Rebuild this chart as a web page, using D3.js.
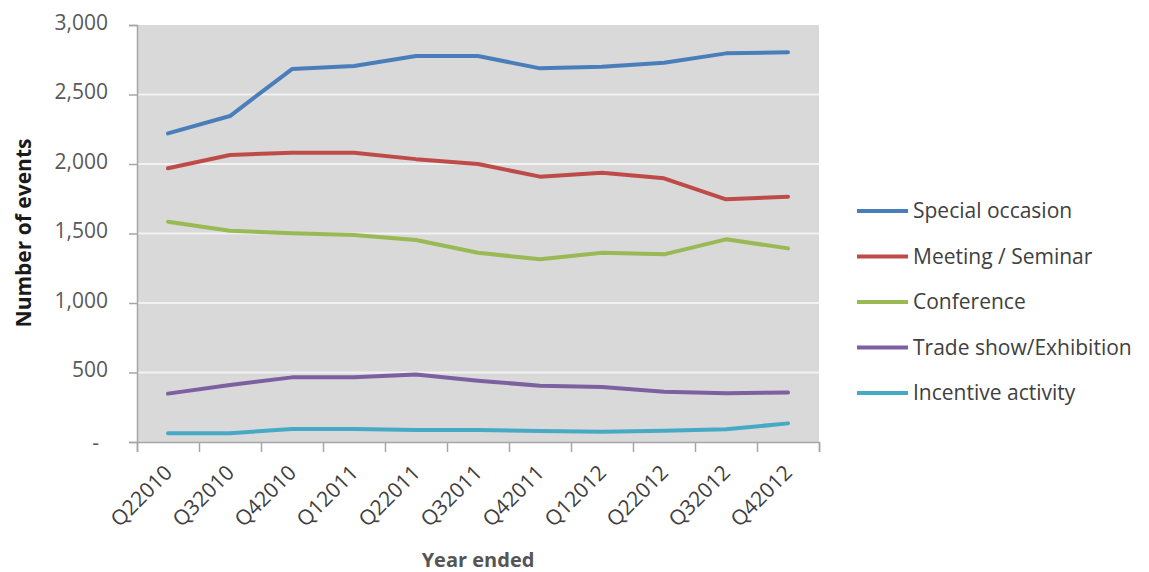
<!DOCTYPE html>
<html>
<head>
<meta charset="utf-8">
<script src="https://cdn.jsdelivr.net/npm/d3@7"></script>
<style>
  html, body { margin: 0; padding: 0; background: #fff; }
  svg { display: block; font-family: "Open Sans", "Noto Sans", sans-serif; }
</style>
</head>
<body>
<svg id="chart" width="1149" height="572"></svg>
<script>
// Quarterly event counts by event type
const quarters = ["Q22010","Q32010","Q42010","Q12011","Q22011","Q32011","Q42011","Q12012","Q22012","Q32012","Q42012"];
const specialOccasion = [2220, 2345, 2683, 2705, 2777, 2777, 2688, 2700, 2729, 2796, 2804];
const meetingSeminar  = [1969, 2065, 2081, 2081, 2035, 2000, 1909, 1937, 1897, 1746, 1765];
const conference      = [1585, 1520, 1501, 1489, 1453, 1362, 1314, 1362, 1350, 1458, 1393];
const tradeShow       = [348, 410, 465, 465, 485, 441, 405, 395, 362, 350, 357];
const incentive       = [63, 63, 94, 94, 86, 86, 79, 74, 81, 91, 134];
const seriesNames  = ["Special occasion", "Meeting / Seminar", "Conference", "Trade show/Exhibition", "Incentive activity"];
const seriesValues = [specialOccasion, meetingSeminar, conference, tradeShow, incentive];
const seriesColors = ["#4a7ebb", "#be4b48", "#98b954", "#7d60a0", "#46aac5"];
const yTicks = [0, 500, 1000, 1500, 2000, 2500, 3000];

const svg = d3.select("#chart");
const plot = { left: 137, right: 819, top: 25, bottom: 442 };

const x = d3.scalePoint().domain(quarters).range([plot.left, plot.right]).padding(0.5);
const xEdges = d3.scaleLinear().domain([0, quarters.length]).range([plot.left, plot.right]);
const y = d3.scaleLinear().domain([0, 3000]).range([plot.bottom, plot.top]);

// plot background
svg.append("rect")
  .attr("x", plot.left).attr("y", plot.top)
  .attr("width", plot.right - plot.left).attr("height", plot.bottom - plot.top)
  .attr("fill", "#d9d9d9");

// horizontal gridlines
svg.append("g").selectAll("line")
  .data(yTicks.filter(v => v > 0 && v < 3000))
  .join("line")
  .attr("x1", plot.left).attr("x2", plot.right)
  .attr("y1", d => y(d)).attr("y2", d => y(d))
  .attr("stroke", "#f2f2f2").attr("stroke-width", 2);

// y axis
const yAxis = svg.append("g")
  .attr("transform", `translate(${plot.left},0)`)
  .call(d3.axisLeft(y).tickValues(yTicks).tickSize(8).tickPadding(21)
    .tickFormat(d => d === 0 ? "-" : d3.format(",")(d)));
yAxis.select(".domain").attr("stroke", "#a6a6a6").attr("stroke-width", 1.5);
yAxis.selectAll(".tick line").attr("stroke", "#a6a6a6").attr("stroke-width", 1.5);
yAxis.selectAll(".tick text")
  .attr("fill", "#595959").attr("font-size", 21).attr("dy", "0.2em")
  .attr("font-family", "Open Sans");
yAxis.selectAll(".tick text").filter(d => d === 0).attr("x", -38).attr("dy", "0.35em");

// x axis: tick marks on category boundaries
const xEdgeAxis = svg.append("g")
  .attr("transform", `translate(0,${plot.bottom})`)
  .call(d3.axisBottom(xEdges).tickValues(d3.range(quarters.length + 1)).tickSize(10).tickFormat(""));
xEdgeAxis.select(".domain").attr("stroke", "#a6a6a6").attr("stroke-width", 1.5);
xEdgeAxis.selectAll(".tick line").attr("stroke", "#a6a6a6").attr("stroke-width", 1.5);

// x axis: rotated category labels
const xLabelAxis = svg.append("g")
  .attr("transform", `translate(0,${plot.bottom})`)
  .call(d3.axisBottom(x).tickSize(0));
xLabelAxis.select(".domain").remove();
xLabelAxis.selectAll(".tick text")
  .attr("x", 0).attr("y", 0).attr("dy", 0)
  .attr("text-anchor", "end")
  .attr("transform", "translate(5,32) rotate(-45)")
  .attr("fill", "#404040").attr("font-size", 21)
  .attr("font-family", "Open Sans");

// series lines
const line = d3.line().x((d, i) => x(quarters[i])).y(d => y(d));
svg.append("g").selectAll("path")
  .data(seriesValues)
  .join("path")
  .attr("d", d => line(d))
  .attr("fill", "none")
  .attr("stroke", (d, i) => seriesColors[i])
  .attr("stroke-width", 4)
  .attr("stroke-linejoin", "round")
  .attr("stroke-linecap", "round");

// legend
const legend = svg.append("g").attr("transform", "translate(857,211)");
const item = legend.selectAll("g")
  .data(seriesNames)
  .join("g")
  .attr("transform", (d, i) => `translate(0,${i * 45.5})`);
item.append("line")
  .attr("x1", 0).attr("x2", 51).attr("y1", 0).attr("y2", 0)
  .attr("stroke", (d, i) => seriesColors[i]).attr("stroke-width", 4);
item.append("text")
  .attr("x", 56).attr("dy", "0.35em")
  .attr("fill", "#404040").attr("font-size", 21)
  .text(d => d);

// axis titles
svg.append("text")
  .attr("transform", "translate(31,233) rotate(-90)")
  .attr("text-anchor", "middle")
  .attr("font-weight", "bold").attr("font-size", 21)
  .attr("fill", "#1a1a1a")
  .text("Number of events");

svg.append("text")
  .attr("x", 478).attr("y", 567)
  .attr("text-anchor", "middle")
  .attr("font-weight", "bold").attr("font-size", 20)
  .attr("fill", "#555")
  .text("Year ended");
</script>
</body>
</html>
